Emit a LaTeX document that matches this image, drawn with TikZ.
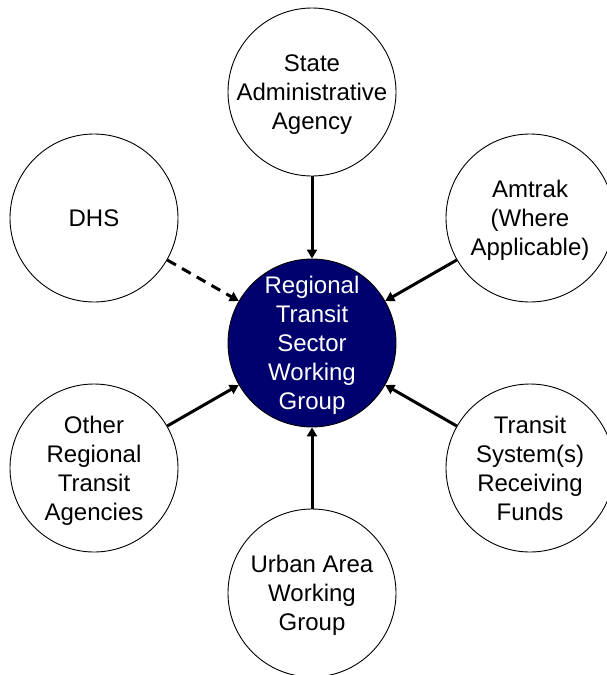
\documentclass[tikz,border=0pt]{standalone}
\usepackage{fontspec}
\setmainfont{Liberation Sans}
\usetikzlibrary{arrows.meta}
\definecolor{hubblue}{RGB}{0,0,110}
\tikzset{
  bubble/.style={circle, draw=black, line width=0.9pt, fill=white, minimum size=168pt, inner sep=0pt},
  hub/.style={bubble, fill=hubblue},
  lbl/.style={align=center, inner sep=0pt, text depth=0pt, font=\fontsize{24}{29}\selectfont},
  hublbl/.style={lbl, text=white},
  link/.style={line width=3pt, -{Triangle[length=9pt,width=10pt]}},
  maybe/.style={link, dash pattern=on 10pt off 7pt}
}
\begin{document}
\begin{tikzpicture}[x=1pt,y=-1pt]
  \useasboundingbox (0,0) rectangle (607,675);
  \clip (0,0) rectangle (607,675);

  % circles
  \node[hub]    (rtswg) at (312,343) {};
  \node[bubble] (saa)   at (312,92)  {};
  \node[bubble] (dhs)   at (94,218)  {};
  \node[bubble] (amt)   at (530,218) {};
  \node[bubble] (ort)   at (94,468)  {};
  \node[bubble] (tsr)   at (530,468) {};
  \node[bubble] (uawg)  at (312,593) {};

  % labels
  \node[hublbl] (rtswg-t) at (rtswg) {Regional\\Transit\\Sector\\Working\\Group};
  \node[lbl] (saa-t)  at (saa)  {State\\Administrative\\Agency};
  \node[lbl] (dhs-t)  at (dhs)  {DHS};
  \node[lbl] (amt-t)  at (amt)  {Amtrak\\(Where\\Applicable)};
  \node[lbl] (ort-t)  at (ort)  {Other\\Regional\\Transit\\Agencies};
  \node[lbl] (tsr-t)  at (tsr)  {Transit\\System(s)\\Receiving\\Funds};
  \node[lbl] (uawg-t) at (uawg) {Urban Area\\Working\\Group};

  % connectors into the working group
  \draw[link]  (saa)  -- (rtswg);
  \draw[link]  (amt)  -- (rtswg);
  \draw[link]  (tsr)  -- (rtswg);
  \draw[link]  (uawg) -- (rtswg);
  \draw[link]  (ort)  -- (rtswg);
  \draw[maybe] (dhs)  -- (rtswg);
\end{tikzpicture}
\end{document}
